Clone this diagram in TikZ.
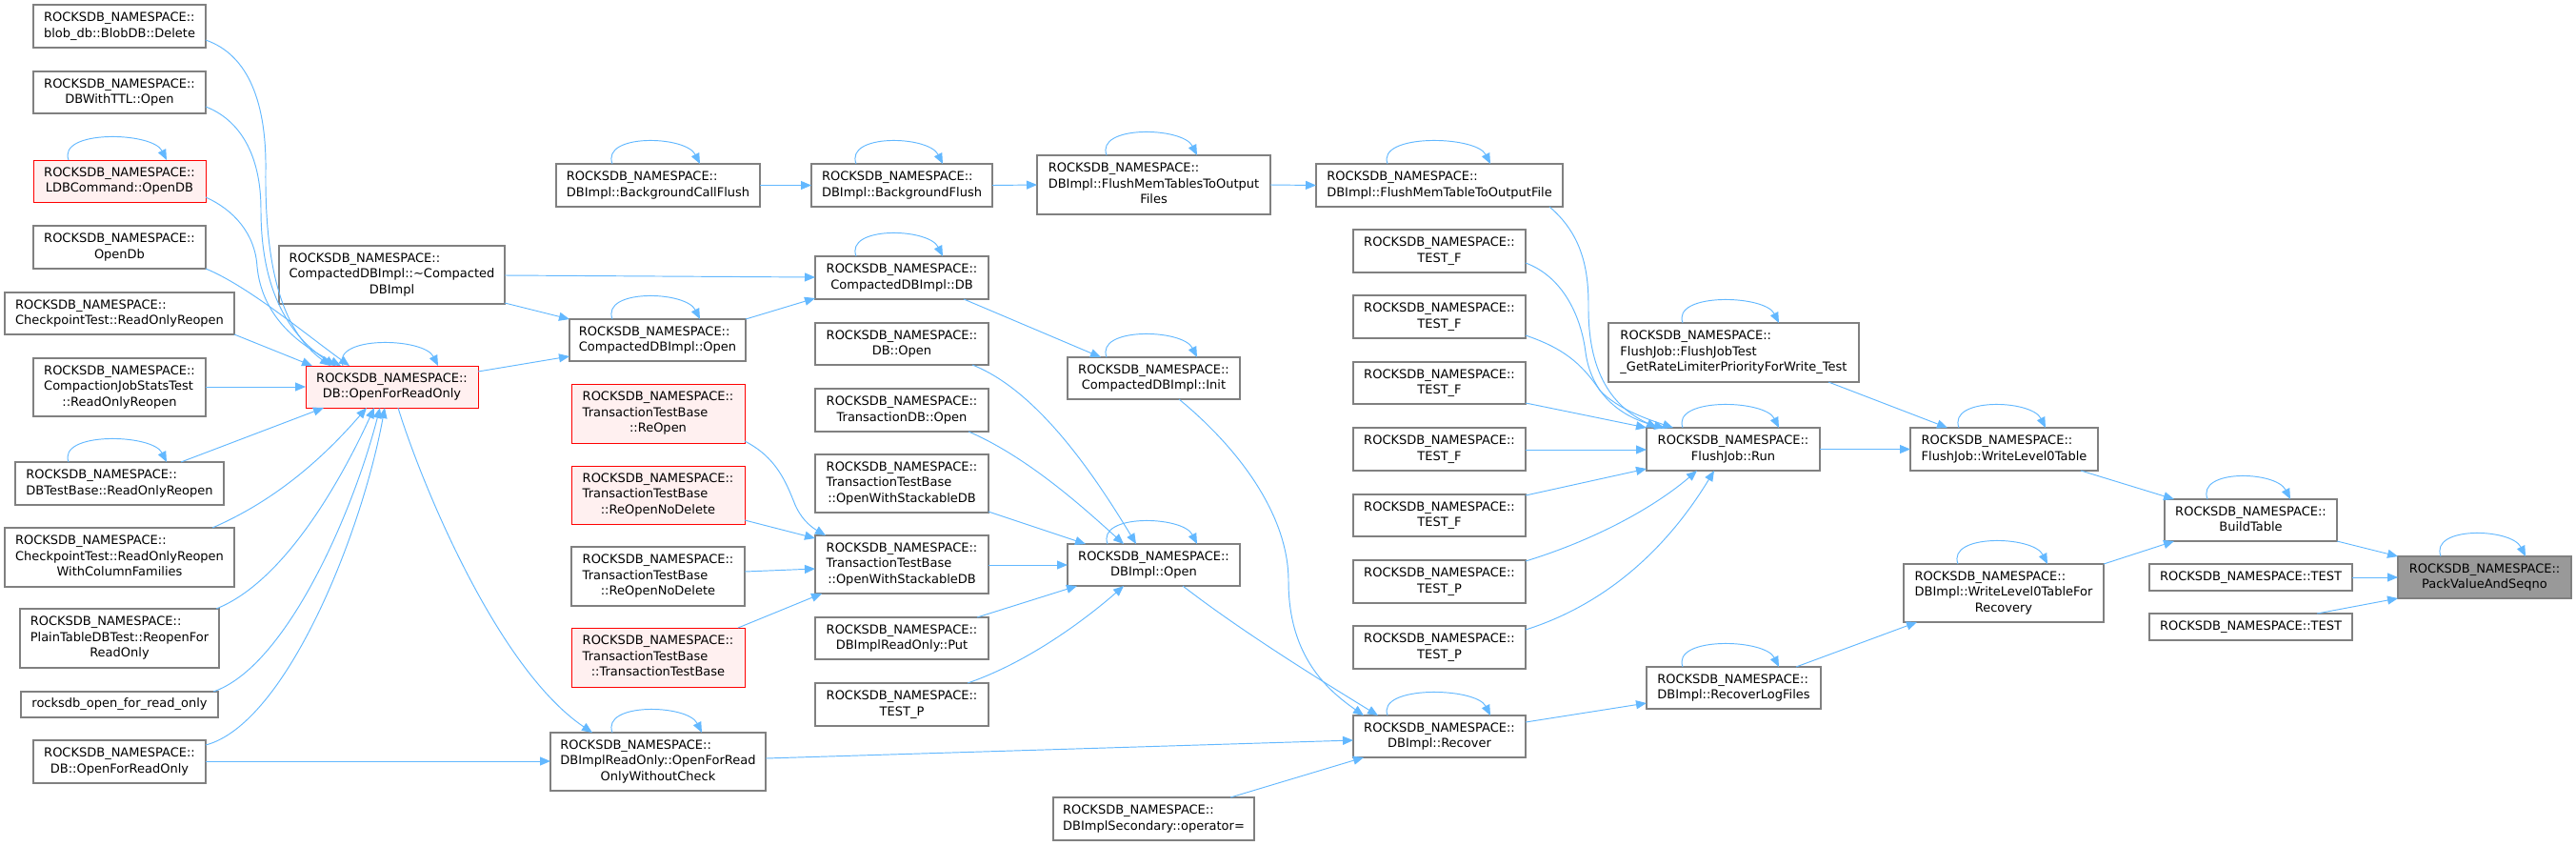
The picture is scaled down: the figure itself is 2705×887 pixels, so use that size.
\documentclass[tikz,border=0pt]{standalone}
\usepackage{fontspec}
\setmainfont{DejaVu Sans}
\usetikzlibrary{arrows.meta}
\definecolor{edgeblue}{HTML}{63B8FF}
\definecolor{boxgray}{HTML}{808080}
\definecolor{redfill}{HTML}{FFF0F0}
\definecolor{rootgray}{HTML}{999999}
\newcommand\NS{ROCKSDB\_NAMESPACE::}
\newcommand\Ltwo[1]{\begin{tabular}{@{}l@{}}\NS\\\multicolumn{1}{@{}c@{}}{#1}\end{tabular}}
\newcommand\Lthree[2]{\begin{tabular}{@{}l@{}}\NS\\#1\\\multicolumn{1}{@{}c@{}}{#2}\end{tabular}}
\newcommand\mkbox[7]{\node[#6, minimum width={#4-#2}, minimum height={#5-#3}] (#1) at ({(#2+#4)/2},{(#3+#5)/2}) {#7};}
\newcommand\selfloop[3]{\draw[edge] (#1.north -| #2,0) .. controls +(-12,-32) and +(-15,-30) .. (#1.north -| #3,0);}
\tikzset{
  nd/.style={draw=boxgray, fill=white, line width=1.1pt, inner sep=0pt, outer sep=0pt,
    font=\fontsize{13}{16.6}\selectfont, text=black},
  ndred/.style={nd, draw=red, fill=redfill, line width=1pt},
  ndroot/.style={nd, fill=rootgray},
  edge/.style={draw=edgeblue, line width=0.95pt, -{Triangle[length=11pt,width=9pt]}},
}
\begin{document}
\begin{tikzpicture}[x=1pt,y=-1pt]
\useasboundingbox (0,0) rectangle (2705,887);
% column 1
\mkbox{blob}{35}{5}{216}{50}{nd}{\Ltwo{blob\_db::BlobDB::Delete}}
\mkbox{ttl}{35}{75}{216}{119}{nd}{\Ltwo{DBWithTTL::Open}}
\mkbox{ldb}{35}{168}{216}{212}{ndred}{\Ltwo{LDBCommand::OpenDB}}
\mkbox{opendb}{35}{237}{216}{282}{nd}{\Ltwo{OpenDb}}
\mkbox{cpro}{5}{307}{246}{351}{nd}{\Ltwo{CheckpointTest::ReadOnlyReopen}}
\mkbox{cjst}{35}{376}{216}{437}{nd}{\Lthree{CompactionJobStatsTest}{::ReadOnlyReopen}}
\mkbox{dbtb}{16}{485}{235}{530}{nd}{\Ltwo{DBTestBase::ReadOnlyReopen}}
\mkbox{cprocf}{5}{554}{246}{616}{nd}{\Lthree{CheckpointTest::ReadOnlyReopen}{WithColumnFamilies}}
\mkbox{plain}{21}{639}{230}{701}{nd}{\Lthree{PlainTableDBTest::ReopenFor}{ReadOnly}}
\mkbox{rof}{22}{726}{229}{753}{nd}{rocksdb\_open\_for\_read\_only}
\mkbox{dbofro2}{35}{777}{216}{822}{nd}{\Ltwo{DB::OpenForReadOnly}}
% column 2
\mkbox{ofro}{321}{384}{502}{428}{ndred}{\Ltwo{DB::OpenForReadOnly}}
\mkbox{dtor}{293}{258}{530}{319}{nd}{\Lthree{CompactedDBImpl::\textasciitilde Compacted}{DBImpl}}
% column 3
\mkbox{bcf}{584}{172}{798}{217}{nd}{\Ltwo{DBImpl::BackgroundCallFlush}}
\mkbox{cdbopen}{598}{335}{783}{379}{nd}{\Ltwo{CompactedDBImpl::Open}}
\mkbox{reopen}{600}{403}{782}{465}{ndred}{\Lthree{TransactionTestBase}{::ReOpen}}
\mkbox{reopennd}{600}{489}{782}{550}{ndred}{\Lthree{TransactionTestBase}{::ReOpenNoDelete}}
\mkbox{reopennd2}{600}{574}{782}{636}{nd}{\Lthree{TransactionTestBase}{::ReOpenNoDelete}}
\mkbox{ttb}{600}{659}{782}{721}{ndred}{\Lthree{TransactionTestBase}{::TransactionTestBase}}
\mkbox{ofrowc}{578}{769}{804}{830}{nd}{\Lthree{DBImplReadOnly::OpenForRead}{OnlyWithoutCheck}}
% column 4
\mkbox{bf}{852}{172}{1042}{217}{nd}{\Ltwo{DBImpl::BackgroundFlush}}
\mkbox{cdb}{856}{269}{1038}{314}{nd}{\Ltwo{CompactedDBImpl::DB}}
\mkbox{dbopen}{856}{339}{1038}{383}{nd}{\Ltwo{DB::Open}}
\mkbox{tdbopen}{856}{408}{1038}{453}{nd}{\Ltwo{TransactionDB::Open}}
\mkbox{owsdb1}{856}{477}{1038}{538}{nd}{\Lthree{TransactionTestBase}{::OpenWithStackableDB}}
\mkbox{owsdb2}{856}{562}{1038}{623}{nd}{\Lthree{TransactionTestBase}{::OpenWithStackableDB}}
\mkbox{put}{856}{648}{1038}{692}{nd}{\Ltwo{DBImplReadOnly::Put}}
\mkbox{testp0}{856}{717}{1038}{762}{nd}{\Ltwo{TEST\_P}}
% column 5
\mkbox{fmtsof}{1089}{163}{1334}{225}{nd}{\Lthree{DBImpl::FlushMemTablesToOutput}{Files}}
\mkbox{init}{1121}{375}{1302}{419}{nd}{\Ltwo{CompactedDBImpl::Init}}
\mkbox{implopen}{1121}{571}{1302}{615}{nd}{\Ltwo{DBImpl::Open}}
\mkbox{secondary}{1106}{837}{1317}{882}{nd}{\Ltwo{DBImplSecondary::operator=}}
% column 6
\mkbox{fmttof}{1382}{172}{1641}{217}{nd}{\Ltwo{DBImpl::FlushMemTableToOutputFile}}
\mkbox{tf1}{1421}{241}{1602}{286}{nd}{\Ltwo{TEST\_F}}
\mkbox{tf2}{1421}{310}{1602}{355}{nd}{\Ltwo{TEST\_F}}
\mkbox{tf3}{1421}{380}{1602}{424}{nd}{\Ltwo{TEST\_F}}
\mkbox{tf4}{1421}{449}{1602}{494}{nd}{\Ltwo{TEST\_F}}
\mkbox{tf5}{1421}{519}{1602}{563}{nd}{\Ltwo{TEST\_F}}
\mkbox{tp1}{1421}{588}{1602}{633}{nd}{\Ltwo{TEST\_P}}
\mkbox{tp2}{1421}{657}{1602}{702}{nd}{\Ltwo{TEST\_P}}
\mkbox{recover}{1421}{751}{1602}{795}{nd}{\Ltwo{DBImpl::Recover}}
% column 7
\mkbox{fjt}{1689}{339}{1952}{401}{nd}{\Lthree{FlushJob::FlushJobTest}{\_GetRateLimiterPriorityForWrite\_Test}}
\mkbox{run}{1729}{449}{1911}{494}{nd}{\Ltwo{FlushJob::Run}}
\mkbox{rlf}{1729}{700}{1912}{744}{nd}{\Ltwo{DBImpl::RecoverLogFiles}}
% column 8
\mkbox{wl0}{2006}{449}{2203}{494}{nd}{\Ltwo{FlushJob::WriteLevel0Table}}
\mkbox{wl0r}{1999}{592}{2209}{653}{nd}{\Lthree{DBImpl::WriteLevel0TableFor}{Recovery}}
% column 9
\mkbox{build}{2273}{524}{2454}{568}{nd}{\Ltwo{BuildTable}}
\mkbox{test1}{2257}{592}{2470}{620}{nd}{\NS TEST}
\mkbox{test2}{2257}{644}{2470}{672}{nd}{\NS TEST}
\mkbox{pack}{2518}{584}{2700}{628}{ndroot}{\Ltwo{PackValueAndSeqno}}

% edges into DB::OpenForReadOnly
\draw[edge] (blob.east |- 0,42) .. controls (262,58) and (280,110) .. (279,180) .. controls (278,290) and (300,350) .. (ofro.north -| 347,0);
\draw[edge] (ttl.east |- 0,112) .. controls (250,125) and (274,160) .. (274,220) .. controls (274,300) and (300,350) .. (ofro.north -| 352,0);
\draw[edge] (ldb.east |- 0,207) .. controls (245,220) and (268,245) .. (270,280) .. controls (275,330) and (310,360) .. (ofro.north -| 358,0);
\draw[edge] (opendb.east |- 0,282) .. controls (260,300) and (320,350) .. (ofro.north -| 367,0);
\draw[edge] (cpro.east |- 0,351) -- (ofro.north -| 328,0);
\draw[edge] (cjst.east |- 0,406) -- (ofro.west |- 0,406);
\draw[edge] (dbtb.north -| 190,0) -- (ofro.south -| 340,0);
\draw[edge] (cprocf.north -| 223,0) .. controls (290,525) and (340,480) .. (ofro.south -| 385,0);
\draw[edge] (plain.north -| 227,0) .. controls (300,610) and (360,500) .. (ofro.south -| 393,0);
\draw[edge] (rof.north -| 224,0) .. controls (300,700) and (370,540) .. (ofro.south -| 399,0);
\draw[edge] (dbofro2.east |- 0,782) .. controls (300,760) and (380,560) .. (ofro.south -| 404,0);
\draw[edge] (ofro.south -| 418,0) .. controls (440,500) and (520,700) .. (ofrowc.north -| 622,0);
\draw[edge] (dbofro2.east |- 0,799) -- (ofrowc.west |- 0,799);
\draw[edge] (ofro.east |- 0,390) -- (cdbopen.west |- 0,374);
% column 2-3
\draw[edge] (dtor.east |- 0,289) -- (cdb.west |- 0,291);
\draw[edge] (dtor.east |- 0,318) -- (cdbopen.north west);
\draw[edge] (cdbopen.north east) -- (cdb.west |- 0,313);
\draw[edge] (bcf.east) -- (bf.west);
\draw[edge] (bf.east) -- (fmtsof.west);
\draw[edge] (fmtsof.east) -- (fmttof.west);
\draw[edge] (reopen.east |- 0,463) .. controls (815,480) and (825,505) .. (835,530) .. controls (843,548) and (855,555) .. (owsdb2.north -| 867,0);
\draw[edge] (reopennd.east |- 0,546) -- (owsdb2.west |- 0,565);
\draw[edge] (reopennd2.east |- 0,600) -- (owsdb2.west |- 0,597);
\draw[edge] (ttb.north -| 775,0) -- (owsdb2.south -| 863,0);
% into DBImpl::Open
\draw[edge] (dbopen.south -| 1021,0) .. controls (1090,410) and (1150,500) .. (implopen.north -| 1193,0);
\draw[edge] (tdbopen.south -| 1017,0) .. controls (1080,480) and (1140,535) .. (implopen.north -| 1180,0);
\draw[edge] (owsdb1.east |- 0,537) -- (implopen.north -| 1140,0);
\draw[edge] (owsdb2.east |- 0,593) -- (implopen.west |- 0,593);
\draw[edge] (put.north -| 1026,0) -- (implopen.south -| 1131,0);
\draw[edge] (testp0.north -| 1016,0) .. controls (1080,695) and (1140,650) .. (implopen.south -| 1180,0);
\draw[edge] (cdb.south -| 1012,0) -- (init.north -| 1156,0);
% into DBImpl::Recover
\draw[edge] (init.south -| 1238,0) .. controls (1300,470) and (1353,540) .. (1353,610) .. controls (1353,690) and (1395,725) .. (recover.north -| 1432,0);
\draw[edge] (implopen.south -| 1242,0) .. controls (1300,660) and (1380,710) .. (recover.north -| 1447,0);
\draw[edge] (ofrowc.east |- 0,796) -- (recover.west |- 0,777);
\draw[edge] (secondary.north -| 1292,0) -- (recover.south -| 1432,0);
% into FlushJob::Run
\draw[edge] (fmttof.south -| 1627,0) .. controls (1660,245) and (1668,280) .. (1668,320) .. controls (1667,400) and (1700,430) .. (run.north -| 1740,0);
\draw[edge] (tf1.east |- 0,276) .. controls (1640,290) and (1660,330) .. (1665,370) .. controls (1672,420) and (1710,440) .. (run.north -| 1748,0);
\draw[edge] (tf2.east |- 0,352) .. controls (1640,365) and (1660,380) .. (1680,410) .. controls (1700,430) and (1730,440) .. (run.north -| 1757,0);
\draw[edge] (tf3.east |- 0,423) -- (run.north west);
\draw[edge] (tf4.east |- 0,472) -- (run.west |- 0,472);
\draw[edge] (tf5.east |- 0,520) -- (run.west |- 0,492);
\draw[edge] (tp1.east |- 0,589) .. controls (1680,565) and (1740,530) .. (run.south -| 1782,0);
\draw[edge] (tp2.east |- 0,661) .. controls (1700,630) and (1760,560) .. (run.south -| 1800,0);
% right part
\draw[edge] (run.east) -- (wl0.west);
\draw[edge] (fjt.south -| 1920,0) -- (wl0.north -| 2045,0);
\draw[edge] (recover.east |- 0,758) -- (rlf.west |- 0,738);
\draw[edge] (rlf.north -| 1886,0) -- (wl0r.south -| 2013,0);
\draw[edge] (wl0.south -| 2185,0) -- (build.north -| 2283,0);
\draw[edge] (wl0r.north east) -- (build.south -| 2283,0);
\draw[edge] (build.south east) -- (pack.north west);
\draw[edge] (test1.east) -- (pack.west |- 0,606);
\draw[edge] (test2.north -| 2433,0) -- (pack.south west);
% self loops
\selfloop{ldb}{72}{175}
\selfloop{dbtb}{72}{175}
\selfloop{ofro}{360}{460}
\selfloop{bcf}{643}{735}
\selfloop{cdbopen}{643}{735}
\selfloop{ofrowc}{643}{737}
\selfloop{bf}{899}{990}
\selfloop{cdb}{899}{990}
\selfloop{fmtsof}{1162}{1257}
\selfloop{init}{1162}{1257}
\selfloop{implopen}{1163}{1257}
\selfloop{fmttof}{1457}{1565}
\selfloop{recover}{1457}{1565}
\selfloop{fjt}{1767}{1868}
\selfloop{run}{1767}{1868}
\selfloop{rlf}{1767}{1868}
\selfloop{wl0}{2057}{2148}
\selfloop{wl0r}{2056}{2150}
\selfloop{build}{2318}{2405}
\selfloop{pack}{2563}{2652}
\end{tikzpicture}
\end{document}
